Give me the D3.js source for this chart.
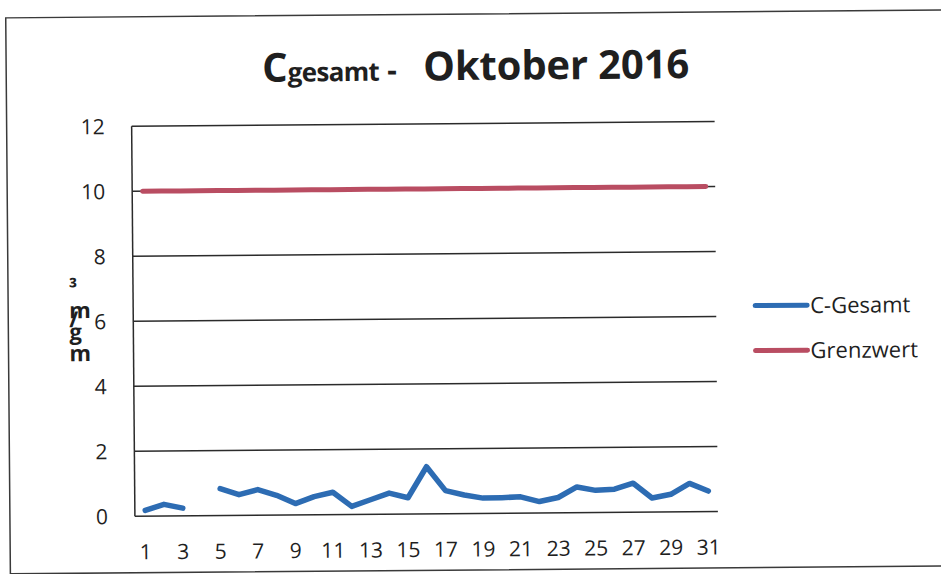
<!DOCTYPE html>
<html>
  <head>
    <meta charset="utf-8">
    <title>Cgesamt - Oktober 2016</title>
    <script src="https://d3js.org/d3.v7.min.js"></script>
    <style>
      body { margin: 0; background: #fff; }
      text { font-family: "Open Sans", sans-serif; fill: #1f1f1f; }
    </style>
  </head>
  <body>
  <div id="chart"></div>
  <script>
    /* ------------------
      data
    ------------------ */

    var days = d3.range(1, 32);
    var cGesamt = [0.18, 0.36, 0.24, null, 0.83, 0.64, 0.79, 0.61, 0.35, 0.56,
                   0.69, 0.25, 0.45, 0.65, 0.50, 1.45, 0.71, 0.57, 0.47, 0.48,
                   0.50, 0.35, 0.47, 0.79, 0.68, 0.71, 0.89, 0.43, 0.54, 0.87, 0.63];
    var grenzwert = days.map(function() { return 10; });
    var yTicks = [0, 2, 4, 6, 8, 10, 12];
    var xLabels = days.filter(function(d) { return d % 2 === 1; });
    var seriesNames = ["C-Gesamt", "Grenzwert"];
    var seriesColors = ["#2d6cb3", "#b94d62"];

    /* ------------------
      setup
    ------------------ */

    var width = 941, height = 574;
    var svg = d3.select('#chart').append('svg').attr('width', width).attr('height', height);

    // the scan is slightly tilted
    var g = svg.append('g').attr('transform', 'rotate(-0.48 470 287)');

    g.append('rect')
      .attr('x', 8).attr('y', 14).attr('width', 942).attr('height', 556)
      .attr('fill', 'none').attr('stroke', '#3a3a3a').attr('stroke-width', 1.5);

    var x = d3.scaleBand().domain(days).range([134, 716]);
    var y = d3.scaleLinear().domain([0, 12]).range([513.5, 123.5]);
    var cx = function(d) { return x(d) + x.bandwidth() / 2; };

    // gridlines
    g.append('g').selectAll('line').data(yTicks).enter().append('line')
      .attr('x1', 133).attr('x2', 716)
      .attr('y1', function(d) { return y(d); }).attr('y2', function(d) { return y(d); })
      .attr('stroke', '#2b2b2b').attr('stroke-width', 1.5);

    // y axis line
    g.append('line')
      .attr('x1', 133).attr('x2', 133).attr('y1', y(12)).attr('y2', y(0))
      .attr('stroke', '#2b2b2b').attr('stroke-width', 1.5);

    // y tick labels
    g.append('g').selectAll('text').data(yTicks).enter().append('text')
      .attr('x', 106).attr('y', function(d) { return y(d); })
      .attr('dy', '0.36em').attr('text-anchor', 'end')
      .attr('font-size', 21)
      .text(function(d) { return d; });

    // x tick labels
    g.append('g').selectAll('text').data(xLabels).enter().append('text')
      .attr('x', function(d) { return cx(d); }).attr('y', 549)
      .attr('dy', '0.36em').attr('text-anchor', 'middle')
      .attr('font-size', 21)
      .text(function(d) { return d; });

    // y axis title: rotated text with each glyph turned back upright
    g.append('text')
      .attr('transform', 'translate(69,358) rotate(-90)')
      .attr('rotate', 90)
      .attr('font-weight', 'bold').attr('font-size', 22).attr('fill', '#111')
      .text('mg/m³');

    // lines
    var line = d3.line()
      .defined(function(d) { return d[1] !== null; })
      .x(function(d) { return cx(d[0]); })
      .y(function(d) { return y(d[1]); });

    [cGesamt, grenzwert].forEach(function(values, i) {
      g.append('path')
        .datum(days.map(function(d, j) { return [d, values[j]]; }))
        .attr('d', line)
        .attr('fill', 'none')
        .attr('stroke', seriesColors[i])
        .attr('stroke-width', i === 0 ? 5.5 : 5)
        .attr('stroke-linejoin', 'round')
        .attr('stroke-linecap', 'round');
    });

    // title
    var title = g.append('text').attr('y', 80).attr('font-weight', 'bold').attr('fill', '#333');
    title.append('tspan').attr('x', 264).attr('font-size', 40).text('C');
    title.append('tspan').attr('font-size', 26).attr('textLength', 92).text('gesamt');
    title.append('tspan').attr('x', 389).attr('font-size', 30).text('-');
    title.append('tspan').attr('x', 425).attr('font-size', 40).attr('textLength', 266).text('Oktober 2016');

    // legend
    var legend = g.append('g').selectAll('g').data(seriesNames).enter().append('g')
      .attr('transform', function(d, i) { return 'translate(753,' + (308 + i * 45) + ')'; });
    legend.append('line')
      .attr('x1', 2).attr('x2', 54)
      .attr('stroke', function(d, i) { return seriesColors[i]; })
      .attr('stroke-width', 5).attr('stroke-linecap', 'round');
    legend.append('text')
      .attr('x', 57).attr('dy', '0.36em').attr('font-size', 22)
      .text(function(d) { return d; });
  </script>
</body>
</html>
